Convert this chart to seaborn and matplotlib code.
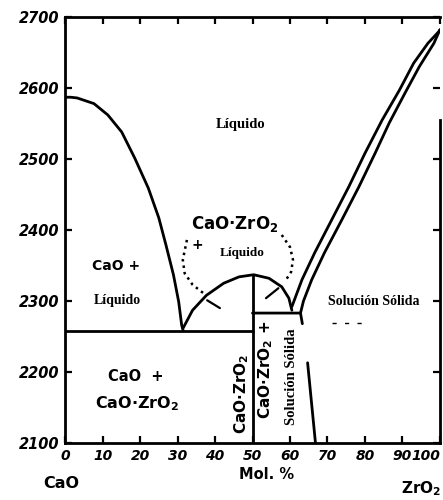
import matplotlib

matplotlib.use("Agg")
import matplotlib.pyplot as plt
import pandas as pd
import seaborn as sns

# composition (mol % ZrO2) and temperature (deg C)
left_liq_x = [0, 1.5, 3.2, 7.7, 11.4, 15.1, 18.6, 22.2, 25.0, 26.9, 28.9, 30.3, 31.1, 31.5]
left_liq_t = [2587, 2587, 2586, 2578, 2562, 2538, 2501, 2459, 2417, 2379, 2337, 2299, 2266, 2258]

dome_x = [31.5, 34.0, 37.7, 42.3, 46.4, 50.3, 54.4, 57.8, 59.7, 60.5]
dome_t = [2262, 2287, 2308, 2325, 2334, 2337, 2332, 2320, 2304, 2287]

liq_x = [60.5, 63.2, 66.6, 71.1, 75.7, 80.0, 84.6, 89.2, 93.0, 96.8, 99.8, 100]
liq_t = [2292, 2330, 2368, 2414, 2461, 2508, 2555, 2597, 2635, 2663, 2680, 2682]

sol_x = [62.8, 63.6, 65.8, 69.2, 73.8, 78.4, 82.7, 86.5, 90.7, 94.5, 98.4, 100]
sol_t = [2283, 2300, 2330, 2368, 2414, 2461, 2508, 2551, 2593, 2630, 2663, 2682]

eutectic_x = [0, 50]
eutectic_t = [2258, 2258]
compound_x = [50, 50]
compound_t = [2100, 2337]
box_top_x = [50, 62.8, 63.3]
box_top_t = [2283, 2283, 2268]
ss_limit_x = [64.7, 66.8]
ss_limit_t = [2213, 2100]

dot_left_x = [32.5, 31.4, 31.9, 34.0, 36.9]
dot_left_t = [2386, 2358, 2339, 2323, 2311]
arrow_left_x = [37.9, 41.3]
arrow_left_t = [2301, 2290]
dot_right_x = [57.8, 60.0, 60.8, 60.3, 58.6]
dot_right_t = [2393, 2376, 2358, 2341, 2327]
arrow_right_x = [56.9, 53.6]
arrow_right_t = [2318, 2304]
dash_x = [71.2, 80.5]
dash_t = [2269, 2269]

x_ticks = [0, 10, 20, 30, 40, 50, 60, 70, 80, 90, 100]
y_ticks = [2100, 2200, 2300, 2400, 2500, 2600, 2700]

sns.set_style("ticks", {"axes.edgecolor": "black", "text.color": "black",
                        "xtick.color": "black", "ytick.color": "black"})
plt.rcParams["font.family"] = ["DejaVu Sans"]

fig = plt.figure(figsize=(4.43, 5.0), dpi=100)
ax = fig.add_axes([0.147, 0.114, 0.846, 0.852])


def draw(xs, ts, **kw):
    df = pd.DataFrame({"x": xs, "t": ts})
    sns.lineplot(data=df, x="x", y="t", ax=ax, sort=False, estimator=None,
                 color="black", legend=False, **kw)


for xs, ts in [(left_liq_x, left_liq_t), (dome_x, dome_t), (liq_x, liq_t),
               (sol_x, sol_t), (eutectic_x, eutectic_t), (compound_x, compound_t),
               (box_top_x, box_top_t), (ss_limit_x, ss_limit_t)]:
    draw(xs, ts, lw=2.0)

draw(dot_left_x, dot_left_t, lw=1.8, linestyle=(0, (1, 1.6)))
draw(dot_right_x, dot_right_t, lw=1.8, linestyle=(0, (1, 1.6)))
draw(arrow_left_x, arrow_left_t, lw=1.6)
draw(arrow_right_x, arrow_right_t, lw=1.6)
draw(dash_x, dash_t, lw=1.0, linestyle=(0, (3, 6)))

ax.set_xlim(0, 100)
ax.set_ylim(2100, 2700)
ax.set_xticks(x_ticks)
ax.set_yticks(y_ticks)
ax.set_xticklabels([str(v) for v in x_ticks], fontsize=10, fontweight="bold", style="italic")
ax.set_yticklabels([str(v) for v in y_ticks], fontsize=10.5, fontweight="bold", style="italic")
ax.get_xticklabels()[-1].set_horizontalalignment("right")
ax.tick_params(direction="in", length=5, width=1.6, top=True, right=True, pad=4)
for s in ax.spines.values():
    s.set_linewidth(2.0)
ax.spines["right"].set_bounds(2100, 2555)
ax.set_xlabel("")
ax.set_ylabel("")

serif = dict(family="Liberation Serif", fontweight="bold", ha="center", va="center")
sans = dict(family="DejaVu Sans", fontweight="bold", ha="center", va="center")
ax.text(46.9, 2548, "Líquido", fontsize=10.5, **serif)
ax.text(45.3, 2408, "CaO·ZrO$_\\mathbf{2}$", fontsize=12, **sans)
ax.text(35.4, 2379, "+", fontsize=10, **sans)
ax.text(47.2, 2368, "Líquido", fontsize=9.5, **serif)
ax.text(13.5, 2349, "CaO +", fontsize=10, **sans)
ax.text(14, 2301, "Líquido", fontsize=10, **serif)
ax.text(82.4, 2299, "Solución Sólida", fontsize=10, **serif)
ax.text(18.9, 2193, "CaO  +", fontsize=10.5, **sans)
ax.text(19.2, 2156, "CaO·ZrO$_\\mathbf{2}$", fontsize=11.5, **sans)
ax.text(47.2, 2169, "CaO·ZrO$_\\mathbf{2}$", fontsize=11, rotation=90, **sans)
ax.text(53.6, 2203, "CaO·ZrO$_\\mathbf{2}$ +", fontsize=11, rotation=90, **sans)
ax.text(60.3, 2194, "Solución Sólida", fontsize=10.5, rotation=90, **serif)

trans = ax.get_xaxis_transform()
ax.text(-1, -0.094, "CaO", transform=trans, fontsize=11.5, **sans)
ax.text(53.7, -0.075, "Mol. %", transform=trans, fontsize=10.5, **sans)
ax.text(95, -0.106, "ZrO$_\\mathbf{2}$", transform=trans, fontsize=11, **sans)

fig.savefig("out.png", dpi=100)
